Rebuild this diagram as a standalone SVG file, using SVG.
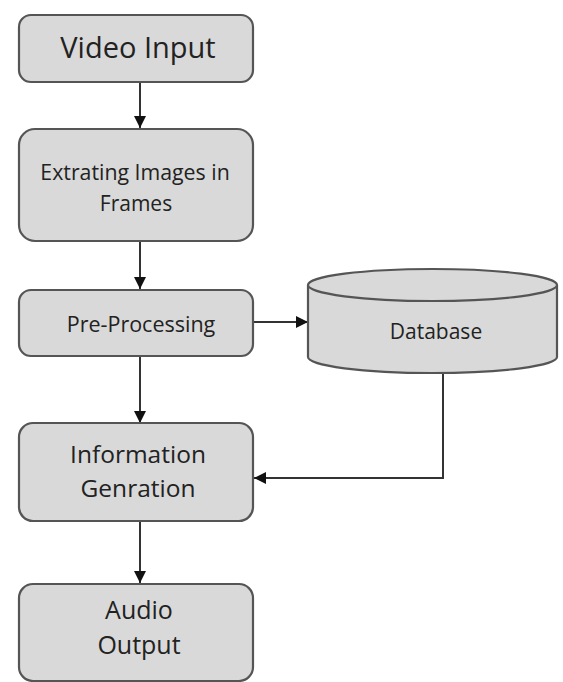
<svg xmlns="http://www.w3.org/2000/svg" width="563" height="682" viewBox="0 0 563 682">
<defs>
<style>
.box{fill:#d9d9d9;stroke:#555555;stroke-width:2.2}
.lbl{font-family:"Open Sans","Liberation Sans",sans-serif;fill:#222222;text-anchor:middle}
.edge{fill:none;stroke:#333333;stroke-width:2}
</style>
<marker id="arr" viewBox="0 0 12 12" refX="12" refY="6" markerWidth="12" markerHeight="12" markerUnits="userSpaceOnUse" orient="auto">
<path d="M0,0 L12,6 L0,12 z" fill="#111111"/>
</marker>
</defs>
<rect width="563" height="682" fill="#ffffff"/>
<g id="connectors">
<line class="edge" x1="140" y1="82" x2="140" y2="128" marker-end="url(#arr)"/>
<line class="edge" x1="140" y1="241" x2="140" y2="289" marker-end="url(#arr)"/>
<line class="edge" x1="253" y1="322" x2="308" y2="322" marker-end="url(#arr)"/>
<line class="edge" x1="140" y1="356" x2="140" y2="423" marker-end="url(#arr)"/>
<polyline class="edge" points="443,370 443,478 254,478" marker-end="url(#arr)"/>
<line class="edge" x1="140" y1="521" x2="140" y2="583" marker-end="url(#arr)"/>
</g>
<g id="video-input">
<rect class="box" x="19" y="15" width="234" height="67" rx="12"/>
<text class="lbl" x="138" y="58" font-size="29">Video Input</text>
</g>
<g id="extracting">
<rect class="box" x="19" y="129" width="234" height="112" rx="16"/>
<text class="lbl" x="135" y="180" font-size="21.3">Extrating Images in</text>
<text class="lbl" x="136" y="211" font-size="21">Frames</text>
</g>
<g id="pre-processing">
<rect class="box" x="19" y="290" width="234" height="66" rx="12"/>
<text class="lbl" x="141" y="332" font-size="21.5">Pre-Processing</text>
</g>
<g id="database">
<path class="box" d="M308,285 L308,357 A124.5,16 0 0 0 557,357 L557,285 A124.5,16 0 0 0 308,285 Z"/>
<path class="box" d="M308,285 A124.5,16 0 0 0 557,285" fill="none"/>
<text class="lbl" x="436" y="339" font-size="21">Database</text>
</g>
<g id="information">
<rect class="box" x="19" y="423" width="234" height="98" rx="14"/>
<text class="lbl" x="138" y="463" font-size="24.5">Information</text>
<text class="lbl" x="138" y="497" font-size="24.5">Genration</text>
</g>
<g id="audio-output">
<rect class="box" x="19" y="584" width="234" height="97" rx="14"/>
<text class="lbl" x="139" y="619" font-size="25">Audio</text>
<text class="lbl" x="139" y="654" font-size="25">Output</text>
</g>
</svg>
